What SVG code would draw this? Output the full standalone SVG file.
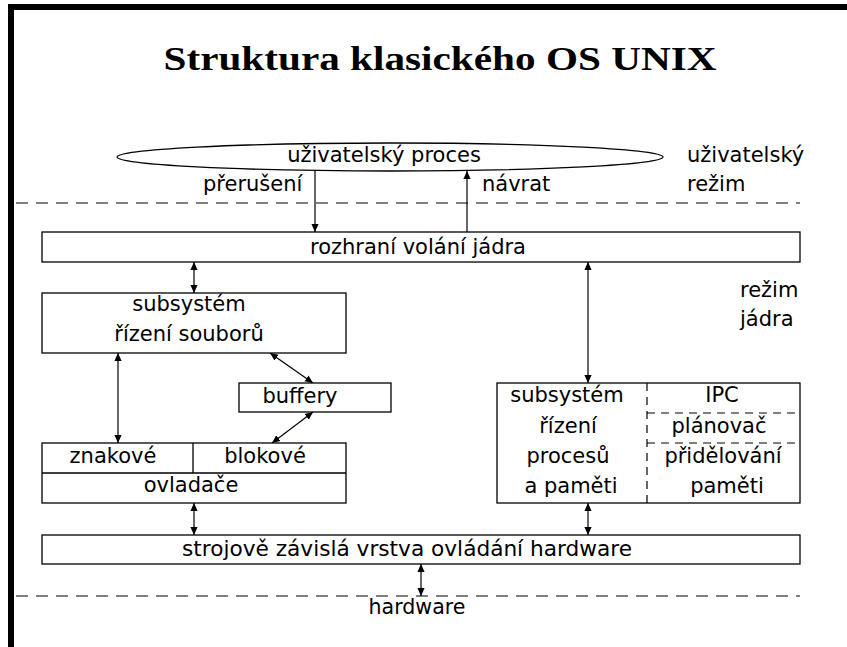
<svg xmlns="http://www.w3.org/2000/svg" width="847" height="647" viewBox="0 0 847 647">
<defs>
<marker id="ah" viewBox="0 0 10 10" refX="10" refY="5" markerWidth="8" markerHeight="8" markerUnits="userSpaceOnUse" orient="auto-start-reverse">
<path d="M0,0.5 L10,5 L0,9.5 Z" fill="#000"/>
</marker>
<style>
.t{font-family:"DejaVu Sans","Liberation Sans",sans-serif;font-size:21px;fill:#000;text-anchor:middle}
.l{font-family:"DejaVu Sans","Liberation Sans",sans-serif;font-size:21px;fill:#000}
.b{fill:#fff;stroke:#000;stroke-width:1.3}
.c{stroke:#000;stroke-width:1.2;fill:none;marker-end:url(#ah)}
.d{stroke:#000;stroke-width:1.2;fill:none;marker-end:url(#ah);marker-start:url(#ah)}
.dash{stroke:#555;stroke-width:1.3;stroke-dasharray:12 8;fill:none}
.dk{stroke:#000;stroke-width:1.2;stroke-dasharray:8 6;fill:none}
</style>
</defs>
<rect x="0" y="0" width="847" height="647" fill="#fff"/>
<rect x="8" y="4" width="839" height="6" fill="#000"/>
<rect x="8" y="4" width="6" height="643" fill="#000"/>
<text x="440" y="70" font-family="Liberation Serif, serif" font-weight="bold" font-size="34" text-anchor="middle" textLength="553" lengthAdjust="spacingAndGlyphs">Struktura klasického OS UNIX</text>

<line class="dash" x1="16" y1="203" x2="800" y2="203"/>
<line class="dash" x1="16" y1="596" x2="800" y2="596"/>
<text class="l" x="687" y="162">uživatelský</text>
<text class="l" x="687" y="191">režim</text>
<text class="l" x="740" y="297">režim</text>
<text class="l" x="740" y="326">jádra</text>
<text class="t" x="417" y="614" textLength="97" lengthAdjust="spacingAndGlyphs">hardware</text>

<g id="connectors">
<line class="c" x1="315" y1="171" x2="315" y2="232"/>
<line class="c" x1="467" y1="232" x2="467" y2="171"/>
<line class="d" x1="194" y1="262" x2="194" y2="293"/>
<line class="d" x1="588" y1="262" x2="588" y2="383"/>
<line class="d" x1="118" y1="353" x2="118" y2="443"/>
<line class="d" x1="270" y1="353" x2="313" y2="383"/>
<line class="d" x1="313" y1="412" x2="272" y2="443"/>
<line class="d" x1="194" y1="503" x2="194" y2="535"/>
<line class="d" x1="588" y1="503" x2="588" y2="535"/>
<line class="d" x1="421" y1="564" x2="421" y2="596"/>
<text class="l" x="203" y="191">přerušení</text>
<text class="l" x="482" y="191">návrat</text>
</g>

<g id="proces">
<ellipse class="b" cx="390" cy="157" rx="273" ry="14"/>
<text class="t" x="384" y="162">uživatelský proces</text>
</g>
<g id="rozhrani">
<rect class="b" x="42" y="232" width="758" height="30"/>
<text class="t" x="418" y="254">rozhraní volání jádra</text>
</g>
<g id="soubory">
<rect class="b" x="42" y="293" width="304" height="60"/>
<text class="t" x="189" y="311">subsystém</text>
<text class="t" x="189" y="341">řízení souborů</text>
</g>
<g id="buffery">
<rect class="b" x="239" y="383" width="152" height="29"/>
<text class="t" x="300" y="403">buffery</text>
</g>
<g id="ovladace">
<rect class="b" x="42" y="443" width="304" height="60"/>
<line stroke="#000" stroke-width="1.3" x1="42" y1="473" x2="346" y2="473"/>
<line stroke="#000" stroke-width="1.3" x1="193" y1="443" x2="193" y2="473"/>
<text class="t" x="113" y="463">znakové</text>
<text class="t" x="265" y="463">blokové</text>
<text class="t" x="191" y="492">ovladače</text>
</g>
<g id="procesy">
<rect class="b" x="497" y="383" width="303" height="120"/>
<line class="dk" x1="647" y1="383" x2="647" y2="503"/>
<line class="dk" x1="647" y1="413" x2="800" y2="413"/>
<line class="dk" x1="647" y1="443" x2="800" y2="443"/>
<text class="t" x="567" y="402">subsystém</text>
<text class="t" x="568" y="433">řízení</text>
<text class="t" x="568" y="463">procesů</text>
<text class="t" x="571" y="493">a paměti</text>
<text class="t" x="722" y="402">IPC</text>
<text class="t" x="719" y="433">plánovač</text>
<text class="t" x="723" y="463">přidělování</text>
<text class="t" x="727" y="493">paměti</text>
</g>
<g id="hwvrstva">
<rect class="b" x="42" y="535" width="758" height="29"/>
<text class="t" x="407" y="556" textLength="450" lengthAdjust="spacingAndGlyphs">strojově závislá vrstva ovládání hardware</text>
</g>
</svg>
